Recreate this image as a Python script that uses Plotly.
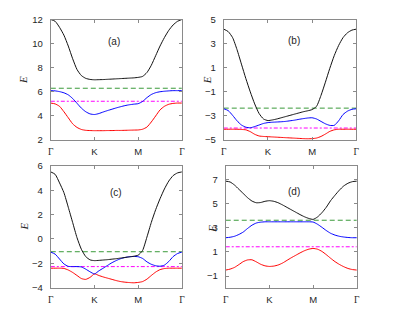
import plotly.graph_objects as go

W, H = 415, 311

# k-path coordinate (Γ=0, K=1, M=2, Γ=3)
k_path = [0.0, 0.1, 0.2, 0.3, 0.4, 0.5, 0.6, 0.7, 0.8, 0.9, 1.0,
          1.1, 1.2, 1.3, 1.4, 1.5, 1.6, 1.7, 1.8, 1.9, 2.0,
          2.1, 2.2, 2.3, 2.4, 2.5, 2.6, 2.7, 2.8, 2.9, 3.0]
k_ticks = [0, 1, 2, 3]
k_labels = ['<span style="font-family:Liberation Serif">Γ</span>', 'K', 'M',
            '<span style="font-family:Liberation Serif">Γ</span>']

# ---- panel (a)
a_black = [12.0, 11.85, 11.35, 10.7, 9.8, 8.75, 7.85, 7.35, 7.12, 7.03, 7.0,
           7.01, 7.02, 7.04, 7.06, 7.08, 7.1, 7.12, 7.14, 7.16, 7.2,
           7.28, 7.6, 8.2, 9.0, 9.8, 10.5, 11.1, 11.55, 11.85, 12.0]
a_blue = [6.1, 6.08, 6.02, 5.92, 5.75, 5.45, 5.05, 4.65, 4.35, 4.17, 4.12,
          4.2, 4.33, 4.45, 4.56, 4.67, 4.77, 4.86, 4.93, 4.98, 5.02,
          5.2, 5.52, 5.78, 5.93, 6.01, 6.05, 6.08, 6.1, 6.1, 6.1]
a_red = [5.07, 5.0, 4.8, 4.35, 3.85, 3.35, 3.05, 2.88, 2.81, 2.79, 2.78,
         2.78, 2.78, 2.79, 2.79, 2.8, 2.8, 2.81, 2.82, 2.83, 2.84,
         2.9, 3.08, 3.5, 4.0, 4.5, 4.8, 4.97, 5.04, 5.07, 5.07]
a_green = 6.3
a_magenta = 5.22

# ---- panel (b)
b_black = [4.2, 4.0, 3.5, 2.5, 1.3, 0.1, -1.0, -2.0, -2.8, -3.25, -3.38,
           -3.33, -3.25, -3.15, -3.05, -2.95, -2.85, -2.75, -2.65, -2.57, -2.47,
           -2.2, -1.3, -0.2, 0.95, 2.0, 2.85, 3.5, 3.9, 4.12, 4.2]
b_blue = [-2.4, -2.55, -2.95, -3.4, -3.75, -3.93, -3.98, -3.88, -3.75, -3.62, -3.55,
          -3.52, -3.5, -3.48, -3.45, -3.4, -3.35, -3.28, -3.22, -3.17, -3.15,
          -3.25, -3.45, -3.65, -3.78, -3.78, -3.4, -2.88, -2.6, -2.45, -2.4]
b_red = [-4.1, -4.1, -4.1, -4.1, -4.12, -4.15, -4.3, -4.52, -4.66, -4.7, -4.72,
         -4.74, -4.76, -4.78, -4.8, -4.82, -4.84, -4.86, -4.88, -4.89, -4.88,
         -4.83, -4.7, -4.5, -4.28, -4.15, -4.1, -4.1, -4.1, -4.1, -4.1]
b_green = -2.35
b_magenta = -4.0

# ---- panel (c)
c_black = [5.5, 5.3, 4.6, 3.8, 2.6, 1.35, 0.1, -0.85, -1.45, -1.72, -1.78,
           -1.76, -1.73, -1.7, -1.66, -1.62, -1.57, -1.52, -1.47, -1.42, -1.33,
           -0.95, 0.15, 1.35, 2.4, 3.3, 4.1, 4.75, 5.2, 5.42, 5.5]
c_blue = [-1.08, -1.25, -1.65, -2.05, -2.25, -2.27, -2.27, -2.3, -2.48, -2.7, -2.87,
          -2.62, -2.4, -2.17, -1.95, -1.77, -1.62, -1.52, -1.46, -1.44, -1.46,
          -1.6, -1.88, -2.08, -2.2, -2.24, -2.15, -1.85, -1.45, -1.2, -1.08]
c_red = [-2.4, -2.4, -2.4, -2.42, -2.55, -2.75, -3.0, -3.25, -3.32, -3.15, -2.87,
         -3.0, -3.12, -3.22, -3.32, -3.42, -3.5, -3.55, -3.58, -3.6, -3.57,
         -3.5, -3.3, -3.0, -2.72, -2.52, -2.43, -2.4, -2.4, -2.4, -2.4]
c_green = -1.05
c_magenta = -2.27

# ---- panel (d)
d_black = [6.87, 6.8, 6.55, 6.2, 5.85, 5.5, 5.22, 5.08, 5.1, 5.2, 5.25,
           5.2, 5.08, 4.9, 4.7, 4.5, 4.3, 4.1, 3.92, 3.78, 3.7,
           3.9, 4.25, 4.7, 5.25, 5.7, 6.12, 6.47, 6.7, 6.83, 6.87]
d_blue = [2.18, 2.22, 2.3, 2.45, 2.65, 2.95, 3.22, 3.4, 3.47, 3.5, 3.5,
          3.5, 3.5, 3.5, 3.5, 3.5, 3.5, 3.5, 3.5, 3.5, 3.48,
          3.3, 3.05, 2.78, 2.55, 2.4, 2.3, 2.24, 2.2, 2.18, 2.18]
d_red = [-0.5, -0.42, -0.28, -0.05, 0.2, 0.34, 0.35, 0.18, -0.02, -0.15, -0.2,
         -0.17, -0.08, 0.08, 0.3, 0.52, 0.72, 0.92, 1.1, 1.23, 1.29,
         1.23, 1.05, 0.78, 0.48, 0.2, -0.03, -0.22, -0.37, -0.46, -0.5]
d_green = 3.63
d_magenta = 1.43

panels = [
    dict(name="(a)", black=a_black, blue=a_blue, red=a_red, green=a_green, magenta=a_magenta,
         yrange=[2, 12], yticks=[2, 4, 6, 8, 10, 12],
         px=(48.5, 181.5), py=(14, 139), title=(113, 37), ylab=(21, 77)),
    dict(name="(b)", black=b_black, blue=b_blue, red=b_red, green=b_green, magenta=b_magenta,
         yrange=[-5, 5], yticks=[-5, -3, -1, 1, 3, 5],
         px=(224, 358.5), py=(14, 139), title=(295, 36), ylab=(207, 77)),
    dict(name="(c)", black=c_black, blue=c_blue, red=c_red, green=c_green, magenta=c_magenta,
         yrange=[-4, 6], yticks=[-4, -2, 0, 2, 4, 6],
         px=(48.5, 181.5), py=(165.7, 292), title=(115, 193), ylab=(21, 229)),
    dict(name="(d)", black=d_black, blue=d_blue, red=d_red, green=d_green, magenta=d_magenta,
         yrange=[-1.96, 8.14], yticks=[-1, 1, 3, 5, 7],
         px=(226, 359), py=(165.7, 292), title=(295, 192), ylab=(212, 231)),
]

fig = go.Figure()
annotations = []
axis_line = "#8a8a8a"
tick_font = dict(family="Liberation Sans, Arial, sans-serif", size=9.5, color="#262626")

for i, p in enumerate(panels):
    n = "" if i == 0 else str(i + 1)
    xa, ya = "x" + n, "y" + n
    common = dict(xaxis=xa, yaxis=ya, mode="lines", showlegend=False, hoverinfo="skip")
    fig.add_trace(go.Scatter(x=[k_path[0], k_path[-1]], y=[p["green"]] * 2,
                             line=dict(color="#3a9a3a", width=1, dash="5px,3px"), **common))
    fig.add_trace(go.Scatter(x=[k_path[0], k_path[-1]], y=[p["magenta"]] * 2,
                             line=dict(color="#ff00ff", width=1, dash="4px,2px,2px,2px"), **common))
    fig.add_trace(go.Scatter(x=k_path, y=p["red"], line=dict(color="#ff0000", width=1,
                             shape="spline", smoothing=0.6), **common))
    fig.add_trace(go.Scatter(x=k_path, y=p["blue"], line=dict(color="#0000ff", width=1,
                             shape="spline", smoothing=0.6), **common))
    fig.add_trace(go.Scatter(x=k_path, y=p["black"], line=dict(color="#111111", width=1,
                             shape="spline", smoothing=0.6), **common))

    x0, x1 = p["px"]
    y0, y1 = p["py"]
    fig.layout["xaxis" + n] = dict(
        domain=[x0 / W, x1 / W], anchor=ya, range=[0, 3],
        tickmode="array", tickvals=k_ticks, ticktext=k_labels,
        ticks="inside", ticklen=3, tickcolor=axis_line, tickwidth=1,
        showline=True, linecolor=axis_line, linewidth=1, mirror="ticks",
        showgrid=False, zeroline=False, tickfont=tick_font, ticklabelstandoff=3,
        fixedrange=True)
    fig.layout["yaxis" + n] = dict(
        domain=[1 - y1 / H, 1 - y0 / H], anchor=xa, range=p["yrange"],
        tickmode="array", tickvals=p["yticks"],
        ticks="inside", ticklen=3, tickcolor=axis_line, tickwidth=1,
        showline=True, linecolor=axis_line, linewidth=1, mirror="ticks",
        showgrid=False, zeroline=False, tickfont=tick_font, ticklabelstandoff=5,
        fixedrange=True)
    annotations.append(dict(text=p["name"], x=p["title"][0] / W, y=1 - p["title"][1] / H,
                            xref="paper", yref="paper", showarrow=False,
                            xanchor="center", yanchor="middle",
                            font=dict(family="Liberation Sans, Arial, sans-serif", size=10,
                                      color="#262626")))
    annotations.append(dict(text="<i>E</i>", x=p["ylab"][0] / W, y=1 - p["ylab"][1] / H,
                            xref="paper", yref="paper", showarrow=False, textangle=-90,
                            xanchor="center", yanchor="middle",
                            font=dict(family="Liberation Serif, Times New Roman, serif",
                                      size=11, color="#262626")))

fig.update_layout(width=W, height=H, margin=dict(l=0, r=0, t=0, b=0),
                  paper_bgcolor="white", plot_bgcolor="white",
                  annotations=annotations)

fig.write_html("out.html", config={"displayModeBar": False},
               post_script="document.body.style.margin='0';document.body.style.overflow='hidden';")
